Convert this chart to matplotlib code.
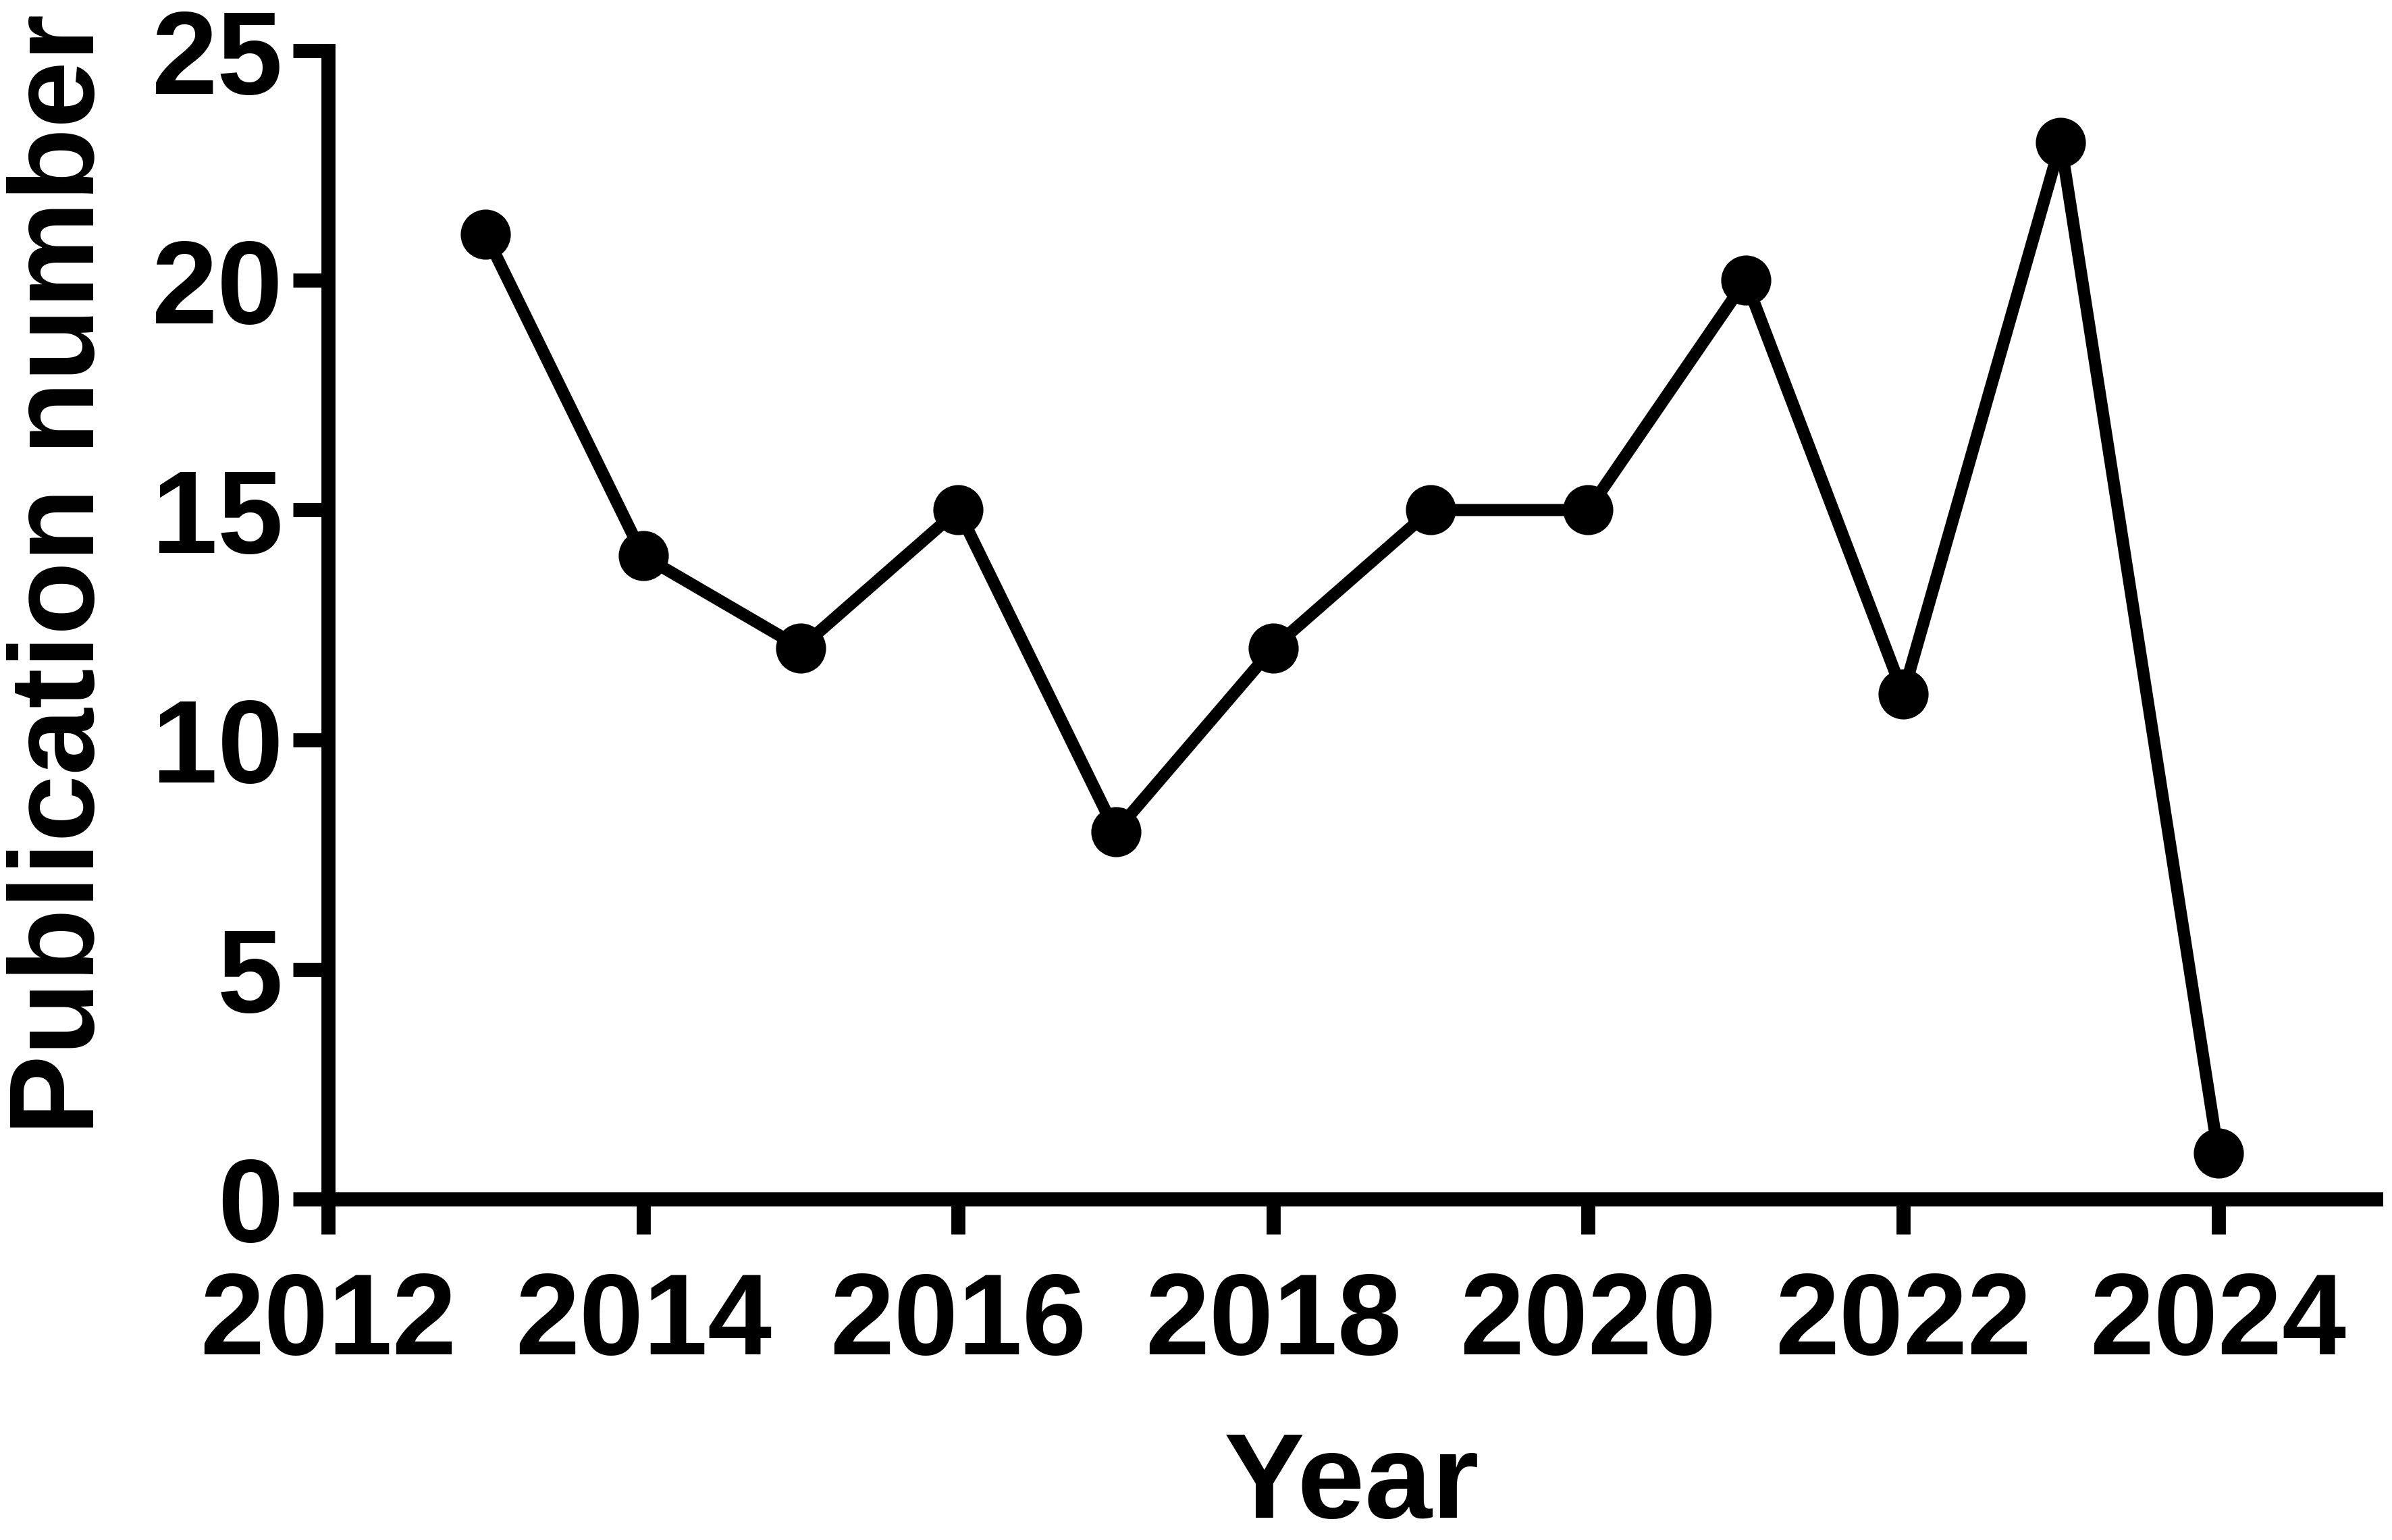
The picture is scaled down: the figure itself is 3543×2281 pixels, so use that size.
import matplotlib
matplotlib.use("Agg")
import matplotlib.pyplot as plt

plt.rcParams['font.family'] = ['Liberation Sans', 'DejaVu Sans']
plt.rcParams['font.weight'] = 'bold'

years = [2013, 2014, 2015, 2016, 2017, 2018, 2019, 2020, 2021, 2022, 2023, 2024]
publications = [21, 14, 12, 15, 8, 12, 15, 15, 20, 11, 23, 1]

x_ticks = [2012, 2014, 2016, 2018, 2020, 2022, 2024]
y_ticks = [0, 5, 10, 15, 20, 25]

DPI = 300
fig = plt.figure(figsize=(3543 / DPI, 2281 / DPI), dpi=DPI)
ax = fig.add_axes([0.1372, 0.2214, 0.9932 - 0.1372, 0.9671 - 0.2214])

ax.plot(years, publications, color='black', linewidth=4.3,
        marker='o', markersize=16.8, markerfacecolor='black',
        markeredgecolor='black', clip_on=False, zorder=3)

ax.set_xlim(2012, 2025)
ax.set_ylim(0, 25)
ax.set_xticks(x_ticks)
ax.set_yticks(y_ticks)

for side in ['top', 'right']:
    ax.spines[side].set_visible(False)
for side in ['left', 'bottom']:
    ax.spines[side].set_linewidth(5)
    ax.spines[side].set_capstyle('projecting')

ax.tick_params(axis='both', which='major', length=12.5, width=5,
               color='black', labelsize=41)
ax.tick_params(axis='x', pad=13)
ax.tick_params(axis='y', pad=3.6, labelsize=42)
for lbl in ax.get_xticklabels() + ax.get_yticklabels():
    lbl.set_fontweight('bold')

ax.set_xlabel('Year', fontsize=43, fontweight='bold')
ax.set_ylabel('Publication number', fontsize=42.7, fontweight='bold')
ax.xaxis.set_label_coords(0.5, -0.2015)
ax.yaxis.set_label_coords(-0.1022, 0.544)

fig.savefig('out.png', dpi=DPI)
